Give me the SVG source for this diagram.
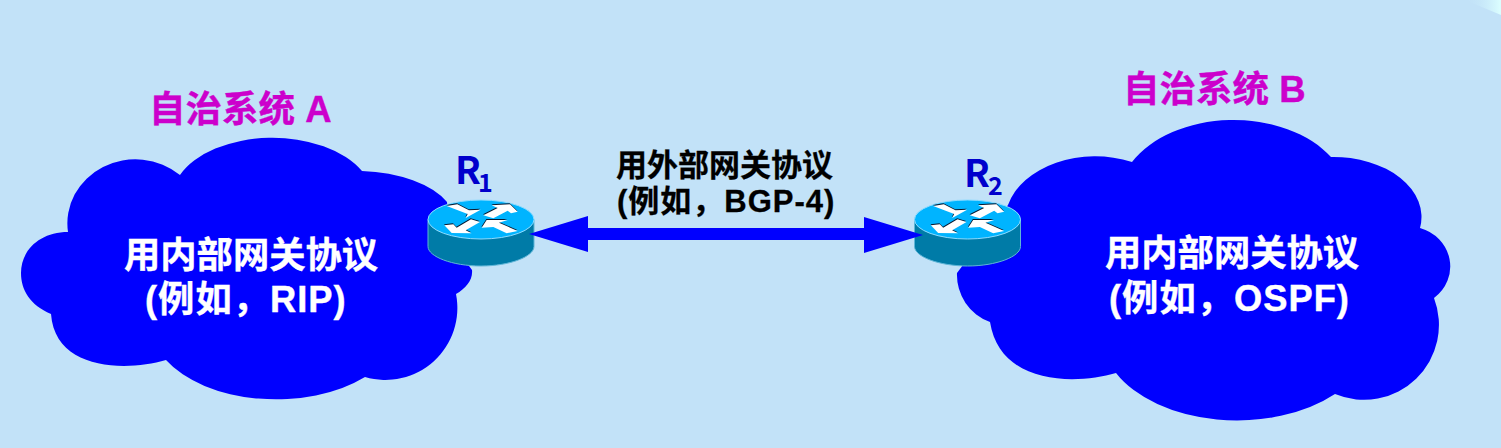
<svg xmlns="http://www.w3.org/2000/svg" width="1501" height="448" viewBox="0 0 1501 448">
<style>
text{font-family:"Liberation Sans","Noto Sans CJK SC",sans-serif;font-weight:700}
.in{font-size:36.300px;fill:#fff;stroke:#fff;stroke-width:.4px}
.as{font-size:36.500px;fill:#cc00cc;stroke:#cc00cc;stroke-width:.4px}
.mid{font-size:31px;fill:#000;stroke:#000;stroke-width:.3px}
.r{font-family:"Noto Sans CJK SC",sans-serif;font-size:38px;fill:#0000cc}
.s{font-family:"Noto Sans CJK SC",sans-serif;font-size:25px;fill:#0000cc}
.cloud{fill:#0000ff}
.sp{letter-spacing:1px}
</style>
<defs>
<linearGradient id="corner" x1="0" y1="0" x2="1" y2="0"><stop offset="0" stop-color="#c2e2f8" stop-opacity="0"/><stop offset="1" stop-color="#dcffff"/></linearGradient>
<g id="arrows">
<polygon points="65,30 97,25 132,43 167,41 122,66 128,54"/>
<polygon points="278,47 255,25 200,28 218,36 175,58 205,67 248,44 258,52"/>
<polygon points="58,88 80,111 140,112 122,103 165,78 138,70 95,95 85,85"/>
<polygon points="170,95 185,72 248,72 222,80 278,105 245,112 205,93"/>
</g>
<g id="router">
<path d="M-53 0V27C-53 37 -29 46.500 0 46.500S53 37 53 27V0Z" fill="#007ba7" stroke="#5fb6d8" stroke-width="1"/>
<ellipse cx="0" cy="0" rx="53" ry="19.500" fill="#00b4ff" stroke="#8fdcff" stroke-width="1"/>
<g transform="scale(.3333) translate(-168,-70.500)">
<use href="#arrows" fill="#0a1a30" transform="translate(-1,-3)"/>
<use href="#arrows" fill="#ffffff"/>
</g>
</g>
</defs>
<rect width="1501" height="448" fill="#c2e2f8"/>
<polygon points="1465,0 1501,0 1501,15" fill="url(#corner)"/>
<g id="cloud-a">
<path class="cloud" d="M180 175A100 60 0 0 1 362 171A100 52 0 0 1 447 202L450 240L472 270C473 280 466 288 456 294A72 72 0 0 1 365 377A125 75 0 0 1 166 360C125 372 55 370 51 314C30 305 21 290 21 273C21 250 40 232 68 232A68 64 0 0 1 180 175Z"/>
<text class="in" x="124" y="268">用内部网关协议<tspan class="sp" x="145" y="312">(例如，RIP)</tspan></text>
<text class="as" x="149" y="122">自治系统 A</text>
</g>
<g id="cloud-b">
<path class="cloud" d="M1132 162A115 79 0 0 1 1331 157A88 60 0 0 1 1420 228A42 40 0 0 1 1434 298A75 75 0 0 1 1335 394A135 85 0 0 1 1116 373C1075 385 1000 385 990 322A50 50 0 0 1 957 273L1008 205A90 65 0 0 1 1132 162Z"/>
<text class="in" x="1105" y="266">用内部网关协议<tspan class="sp" x="1109" y="311">(例如，OSPF)</tspan></text>
<text class="as" x="1123" y="102">自治系统 B</text>
</g>
<g id="r1">
<use href="#router" x="481" y="219.500"/>
<text class="r" x="455" y="184">R</text><text class="s" x="478" y="192">1</text>
</g>
<g id="r2">
<use href="#router" x="967.500" y="219.500"/>
<text class="r" x="964" y="187">R</text><text class="s" x="988" y="195">2</text>
</g>
<g id="connectors">
<rect x="586" y="228" width="280" height="12" fill="#0000ff"/>
<polygon points="529,234 588,216 588,252" fill="#0000ff"/>
<polygon points="923,235 864,217 864,253" fill="#0000ff"/>
</g>
<g id="label">
<text class="mid" x="616" y="176">用外部网关协议<tspan class="sp" x="617" y="212">(例如，BGP-4)</tspan></text>
</g>
</svg>
